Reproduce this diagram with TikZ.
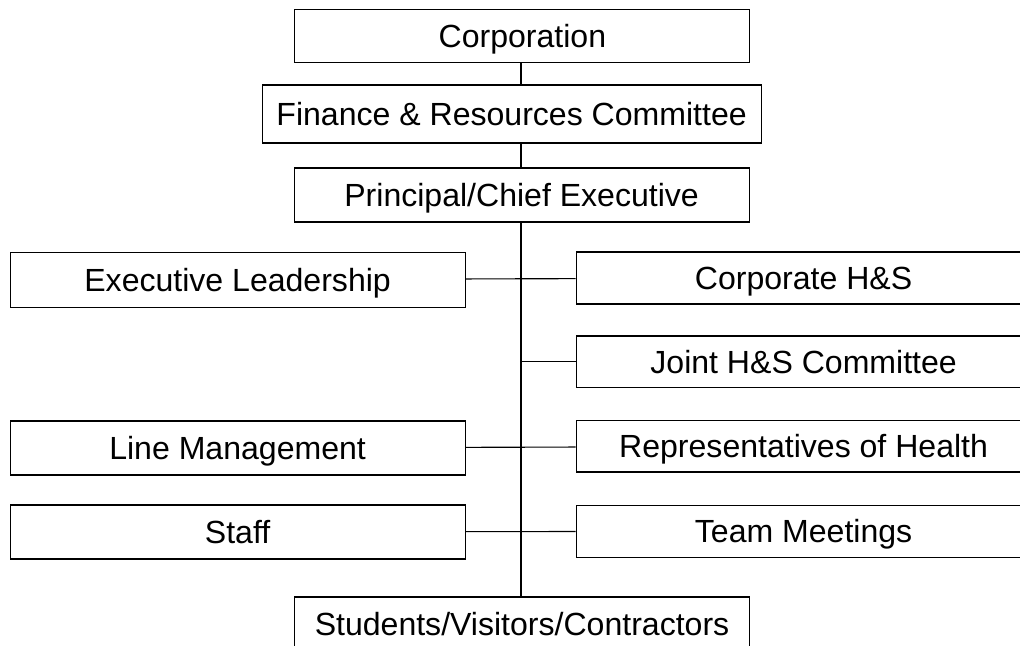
\documentclass[tikz,border=0pt]{standalone}
\usepackage{fontspec}
\setmainfont{Liberation Sans}
\usetikzlibrary{calc}

\begin{document}
\begin{tikzpicture}[
                    nodes={draw, rectangle, inner sep=0, line width=0.8pt,
                           text height=16.3pt, text depth=0pt,
                           font=\fontsize{22.8pt}{26pt}\selectfont},
                    wide/.style={minimum width=11.375cm, minimum height=1.35cm},
                    line width=0.8pt]
                \useasboundingbox (0,0) rectangle (25.5,-16.15);
                \coordinate (trunk) at (13.025,0);

                \node (corp) [wide, minimum height=1.325cm] at (13.06,-0.91) {Corporation};
                \node (fin) [minimum width=12.475cm, minimum height=1.45cm] at (12.79,-2.85) {Finance \& Resources Committee};
                \node (prin) [wide] at (13.04,-4.875) {Principal/Chief Executive};

                \node (exec) [wide, minimum height=1.375cm] at (5.94,-6.99) {Executive Leadership};
                \node (line) [wide] at (5.94,-11.2) {Line Management};
                \node (staff) [wide] at (5.94,-13.3) {Staff};

                \node (hs) [wide, minimum height=1.3cm] at (20.09,-6.95) {Corporate H\&S};
                \node (joint) [wide, minimum height=1.28cm] at (20.09,-9.04) {Joint H\&S Committee};
                \node (rep) [wide, minimum height=1.28cm] at (20.09,-11.16) {Representatives of Health};
                \node (team) [wide, minimum height=1.3cm] at (20.09,-13.28) {Team Meetings};

                \node (stud) [wide] at (13.05,-15.6) {Students/Visitors/Contractors};

                \draw (corp.south -| trunk) -- (fin.north -| trunk);
                \draw (fin.south -| trunk) -- (prin.north -| trunk);
                \draw (prin.south -| trunk) -- (stud.north -| trunk);

                \draw (exec) -- (hs);
                \draw (joint.west) -- (joint.west -| trunk);
                \draw (line) -- (rep);
                \draw (staff) -- (team);
            \end{tikzpicture}
\end{document}
